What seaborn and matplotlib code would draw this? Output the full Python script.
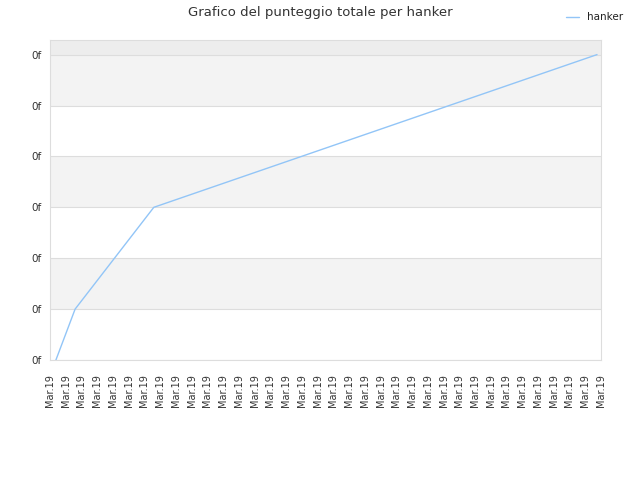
"""
Grafico del punteggio totale per hanker
"""

import pandas as pd
import numpy as np
import matplotlib
matplotlib.use('Agg')
import matplotlib.pyplot as plt
import seaborn as sns

sns.set_style('white')
plt.rcParams['font.family'] = ['DejaVu Sans']

# data
player = 'hanker'
day_pos = [0.38, 1.6, 6.6, 34.75]
total_score = [0, 1, 3, 6]
tick_labels = ['Mar.19'] * 36
y_ticks = [0, 1, 2, 3, 4, 5, 6]
y_labels = ['0f'] * 7

df = pd.DataFrame({'giorno': day_pos, 'punteggio': total_score, 'giocatore': player})

fig = plt.figure(figsize=(6.4, 4.8), dpi=100)
ax = fig.add_axes([0.078, 0.25, 0.861, 0.667])

# alternating background bands
for i in range(7):
    if i % 2 == 1:
        ax.axhspan(i, i + 1, color='#f3f3f3', zorder=0, lw=0)
ax.axhspan(6, 7, color='#ededed', zorder=0, lw=0)

sns.lineplot(data=df, x='giorno', y='punteggio', hue='giocatore',
             palette=['#92c5f7'], linewidth=1, ax=ax, zorder=3)

ax.set_xlim(0, 35)
ax.set_ylim(0, 6.29)
ax.set_xticks(range(len(tick_labels)))
ax.set_xticklabels(tick_labels, rotation=90, fontsize=7, color='#333333')
ax.set_yticks(y_ticks)
ax.set_yticklabels(y_labels, fontsize=7.5, color='#333333')
ax.tick_params(axis='x', length=0, pad=10)
ax.tick_params(axis='y', length=0, pad=6)
ax.set_xlabel('')
ax.set_ylabel('')

for y in y_ticks:
    ax.axhline(y, color='#dddddd', lw=0.8, zorder=1)
for s in ax.spines.values():
    s.set_color('#dddddd')
    s.set_linewidth(0.8)

fig.suptitle('Grafico del punteggio totale per hanker', fontsize=9.5,
             color='#333333', x=0.5, y=0.988)

leg = ax.legend(loc='upper right', bbox_to_anchor=(1.057, 1.115), frameon=False,
                fontsize=7.5, handlelength=1.2, handletextpad=0.8)
for t in leg.get_texts():
    t.set_color('#222222')

plt.savefig('out.png', dpi=100)
